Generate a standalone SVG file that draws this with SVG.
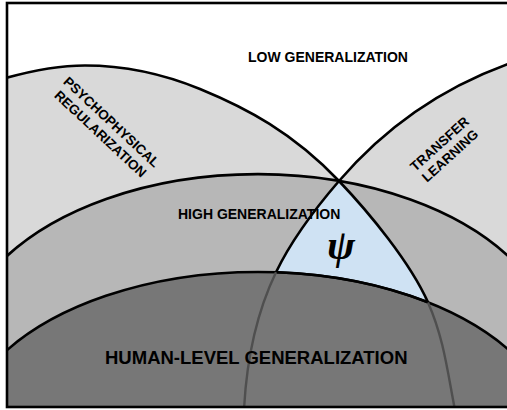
<svg xmlns="http://www.w3.org/2000/svg" width="507" height="410" viewBox="0 0 507 410">
<style>
.lbl{font-family:"Liberation Sans",Arial,sans-serif;font-weight:bold;fill:#000}
.edge{fill:none;stroke:#000;stroke-width:2.6;stroke-linejoin:round}
.faint{fill:none;stroke:#4f4f4f;stroke-width:2.4}
</style>
<defs>
<clipPath id="frame"><rect x="7" y="3" width="510" height="404"/></clipPath>
</defs>
<rect width="507" height="410" fill="#fff"/>
<g clip-path="url(#frame)">
<g id="psychophysical-regularization">
<path fill="#d9d9d9" d="M6,78 C32.3,70.6 58.7,65.5 85,65.5 C123.3,65.5 161.7,73.3 200,89 C246.3,108 292.7,132.4 339,181 C368.7,212.2 410,262 428,302.4 C444,338.4 447.7,373.3 455,410 L6,410 Z"/>
</g>
<g id="transfer-learning">
<path fill="#d9d9d9" d="M510,63.2 A405,405 0 0 0 339,181 C313.1,211 291.5,240 276,272.3 C254,318.2 246.3,364.1 244,410 L510,410 Z"/>
</g>
<g id="high-generalization">
<path fill="#b7b7b7" d="M6,256.8 A300,181.8 0 0 1 510,257.7 L510,410 L6,410 Z"/>
</g>
<g id="psi">
<path fill="#cfe2f3" d="M339,181 C368.7,212.2 410,262 428,302.4 A300,172.7 0 0 0 276,272.3 C291.5,240 313.1,211 339,181 Z"/>
</g>
<g id="human-level-generalization">
<path fill="#777" d="M6,351 A300,172.7 0 0 1 510,351 L510,410 L6,410 Z"/>
</g>
<text class="lbl" x="178" y="219" font-size="14">HIGH GENERALIZATION</text>
<g id="connectors">
<path class="edge" d="M6,78 C32.3,70.6 58.7,65.5 85,65.5 C123.3,65.5 161.7,73.3 200,89 C246.3,108 292.7,132.4 339,181 C368.7,212.2 410,262 428,302.4"/>
<path class="edge" d="M510,63.2 A405,405 0 0 0 339,181 C313.1,211 291.5,240 276,272.3"/>
<path class="edge" d="M6,256.8 A300,181.8 0 0 1 510,257.7"/>
<path class="edge" d="M6,351 A300,172.7 0 0 1 510,351"/>
<path class="edge" stroke-width="4.5" d="M276,272.3 A300,172.7 0 0 1 428,302.4"/>
<path class="faint" d="M428,302.4 C444,338.4 447.7,373.3 455,410"/>
<path class="faint" d="M276,272.3 C254,318.2 246.3,364.1 244,410"/>
</g>
</g>
<text class="lbl" x="248" y="62" font-size="14">LOW GENERALIZATION</text>
<g transform="translate(106,128) rotate(43)">
<text class="lbl" x="0" y="-3.5" font-size="13.5" text-anchor="middle">PSYCHOPHYSICAL</text>
<text class="lbl" x="0" y="12.8" font-size="13.5" text-anchor="middle">REGULARIZATION</text>
</g>
<g transform="translate(445,150) rotate(-42)">
<text class="lbl" x="0" y="-3.5" font-size="13.5" text-anchor="middle">TRANSFER</text>
<text class="lbl" x="0" y="12.3" font-size="13.5" text-anchor="middle">LEARNING</text>
</g>
<text x="341" y="259" font-family="'Liberation Serif','Times New Roman',serif" font-weight="bold" font-style="italic" font-size="42" text-anchor="middle" fill="#000">ψ</text>
<text class="lbl" x="105" y="364" font-size="18.5" fill="#111">HUMAN-LEVEL GENERALIZATION</text>
<rect x="7" y="3" width="512" height="404" fill="none" stroke="#000" stroke-width="2.6"/>
</svg>
